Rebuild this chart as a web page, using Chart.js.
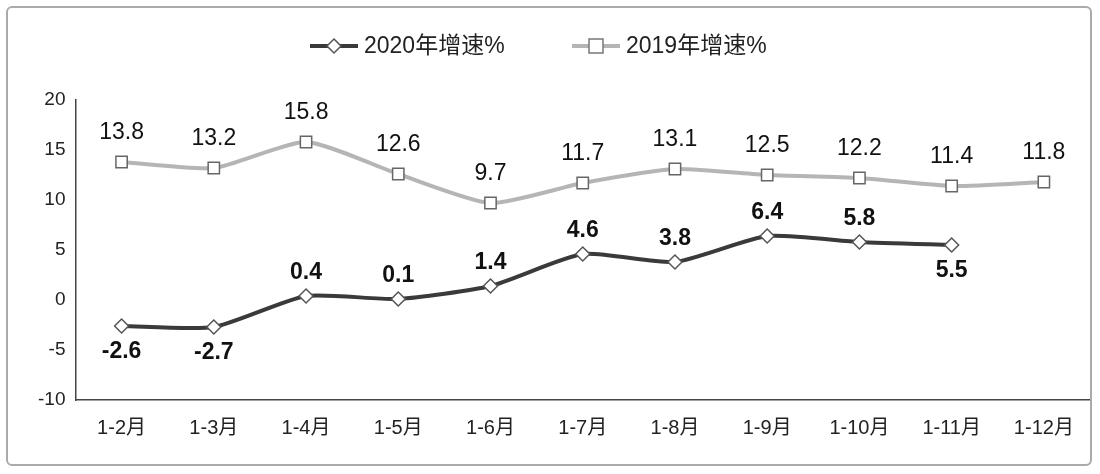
<!DOCTYPE html>
<html><head><meta charset="utf-8">
<script src="https://cdn.jsdelivr.net/npm/chart.js@4"></script>
<style>html,body{margin:0;background:#fff}#w{position:relative;width:1100px;height:474px}
#frame{position:absolute;left:6px;top:6px;width:1086px;height:460px;border:2px solid #aaa;border-radius:6px;box-sizing:border-box}</style>
</head><body><div id="w"><div id="frame"></div><canvas id="c" width="1100" height="474"></canvas></div>
<script>
const categories=["1-2月","1-3月","1-4月","1-5月","1-6月","1-7月","1-8月","1-9月","1-10月","1-11月","1-12月"];
const growth2020=[-2.6,-2.7,0.4,0.1,1.4,4.6,3.8,6.4,5.8,5.5,null];
const growth2019=[13.8,13.2,15.8,12.6,9.7,11.7,13.1,12.5,12.2,11.4,11.8];
const below2020=[true,true,false,false,false,false,false,false,false,true,false];
const seriesNames=["2020年增速%","2019年增速%"];
const F='"Liberation Sans","Noto Sans CJK SC",sans-serif';
const labelPlugin={id:'lbl',afterDatasetsDraw(ch){
 const c=ch.ctx;c.save();c.textAlign='center';c.fillStyle='#111';
 const m0=ch.getDatasetMeta(0),m1=ch.getDatasetMeta(1);
 c.font='23px '+F;c.textBaseline='bottom';
 m1.data.forEach((p,i)=>c.fillText(growth2019[i].toFixed(1),p.x,p.y-18));
 c.font='bold 23px '+F;
 m0.data.forEach((p,i)=>{if(growth2020[i]==null)return;
  if(below2020[i]){c.textBaseline='top';c.fillText(growth2020[i].toFixed(1),p.x,p.y+14);}
  else{c.textBaseline='bottom';c.fillText(growth2020[i].toFixed(1),p.x,p.y-12);}});
 const items=[{x:310,col:'#3a3a3a',sq:false},{x:572,col:'#b5b5b5',sq:true}];
 c.font='23px '+F;c.textAlign='left';c.textBaseline='middle';
 items.forEach((it,k)=>{const y=46;c.strokeStyle=it.col;c.lineWidth=4;c.beginPath();c.moveTo(it.x,y);c.lineTo(it.x+48,y);c.stroke();
  c.fillStyle='#fff';c.lineWidth=1.5;c.strokeStyle=k?'#777':'#555';c.beginPath();
  const cx=it.x+24;if(it.sq){c.rect(cx-7,y-7,14,14);}else{c.moveTo(cx,y-7);c.lineTo(cx+7,y);c.lineTo(cx,y+7);c.lineTo(cx-7,y);c.closePath();}
  c.fill();c.stroke();c.fillStyle='#222';c.fillText(seriesNames[k],it.x+54,y+1);});
 c.restore();}};
new Chart(document.getElementById('c'),{type:'line',
 data:{labels:categories,datasets:[
  {data:growth2020,borderColor:'#3a3a3a',borderWidth:4,tension:0.2,pointStyle:'rectRot',pointRadius:7,pointBackgroundColor:'#fff',pointBorderColor:'#555',pointBorderWidth:1.5},
  {data:growth2019,borderColor:'#b5b5b5',borderWidth:4,tension:0.2,pointStyle:'rect',pointRadius:8,pointBackgroundColor:'#fff',pointBorderColor:'#666',pointBorderWidth:1.5}]},
 options:{responsive:false,animation:false,devicePixelRatio:1,
  layout:{padding:{top:100,right:10,left:34,bottom:26}},
  plugins:{legend:{display:false},tooltip:{enabled:false}},
  scales:{x:{offset:true,grid:{display:false,drawTicks:true},border:{color:'#444',width:1.5},ticks:{color:'#222',font:{size:20,family:F},padding:8}},
   y:{min:-10,max:20,grid:{display:false,drawTicks:true,tickLength:6},border:{color:'#444',width:1.5},ticks:{stepSize:5,color:'#222',font:{size:19,family:F},padding:4}}}},
 plugins:[labelPlugin]});
</script></body></html>
